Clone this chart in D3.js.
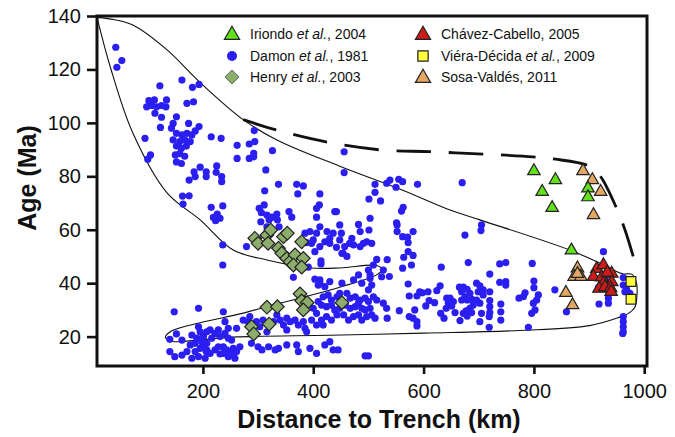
<!DOCTYPE html>
<html><head><meta charset="utf-8">
<script src="https://cdnjs.cloudflare.com/ajax/libs/d3/7.8.5/d3.min.js"></script>
<style>
body{margin:0;background:#fff;}
svg{display:block;font-family:Arial,"Liberation Sans",Helvetica,sans-serif;}
</style></head><body>
<svg id="chart" width="675" height="437"></svg>
<script>
// Axis ticks
const xTicks = [200, 400, 600, 800, 1000];
const yTicks = [20, 40, 60, 80, 100, 120, 140];

// [distance to trench (km), age (Ma)]
const damon = [
[42,128.3],[44,120.8],[53,123.3],
[122,113.9],[162,116],[181,113.3],[193,114.4],
[102,108.3],[112,108.6],[134,108.6],
[98,106],[107,106.5],[116,106],[125,106.5],[133,106],
[113,103.6],[125,102.1],[123,98.3],[95,94.2],[100,86.4],[105,88],
[152,102.3],[171,107.3],[183,107.9],[174,99.8],[193,98.6],[146,99.8],[143,98],
[152,96.1],[162,95.5],[171,96.1],[180,95.5],[186,97],
[146,93.6],[158,93],[167,93.6],[177,93],
[152,91.3],[161,90.5],[170,91.3],
[150,88],[158,88.5],[167,87.5],
[152,85.4],[161,84.8],
[175,78.6],[195,83.4],[184,81.7],[186,79.9],[206,81.7],[206,79.9],[225,83.9],[224,81.5],[234,79.9],[234,78],
[215,94.8],[233,94.2],[262,91.6],[262,86.7],
[163,72.6],[175,72.7],[164,69.6],
[215,68.4],[236,68.9],[226,65.9],[231,64.3],[223,63.4],[236,54.3],[219,64.6],
[284,92.1],[294,93],[284,86.7],[292,87.3],[292,88.6],[293,97.1],
[326,89.6],[314,82.4],[312,74.6],[337,77],[370,77],[382,76.4],[372,73.4],
[412,73.4],[411,69.3],[406,68],[439,66.8],
[302,68],[311,69.3],[306,66.4],[316,65.5],[325,64.7],[334,65.9],[320,63.7],[335,63.7],[338,61.1],[316,61.1],[305,63],[356,66.8],[361,64.7],
[456,89.2],[456,81.4],[512,77],[512,74],[533,77.4],[539,78.6],[550,75.9],[555,78.9],[562,78],[589,77],[670,77.6],
[501,71.5],[522,70.8],[442,66.8],[563,68.4],[560,67],[503,64.3],
[406,64.7],[412,61.1],[394,59.3],[385,58.7],[400,56.2],[388,55.2],[425,59.3],[421,55.5],[448,61.8],[451,58.7],[448,56.2],[442,53.4],[482,62],[485,59.3],[470,56.8],[473,54.3],[485,53.7],[501,59.9],[497,55.5],[506,54.9],
[552,61.8],[552,59.3],[562,57.4],[571,57.2],[572,55.2],[581,59.3],[675,58],[705,61.8],[704,59.7],[551,62.6],
[436,58.7],[430,56.8],[406,58.7],[430,54.9],[397,54.9],[412,53.7],[403,51.8],[279,53.7],
[466,54.9],[457,53.7],[454,51.2],[491,54.9],
[572,51.8],[581,50.4],[564,49.7],[562,45.6],[578,46.8],[534,48.8],[538,42.5],[524,42.4],[515,48.9],[509,46.8],[527,44.9],[500,44.9],[503,43.1],
[632,46],[681,47.7],[720,43.4],[738,47.2],[749,47.7],[738,40.3],[749,40.6],[749,39.3],[773,34.4],[797,47.4],
[236,46.8],[148,29.3],[192,30.6],[237,29.3],[240,25.6],
[152,21],[140,19],[162,18.7],[180,20.6],[192,23.7],[195,21.8],[201,20],[207,21.8],[213,22.5],[189,19.4],[198,18.1],[207,17.5],[216,19.4],[222,21.2],[228,22.5],[231,20],[240,21.2],[246,23.1],[246,19.4],[252,18.7],[261,23.1],
[177,16.9],[186,17.5],[195,15.6],[186,14.4],[201,16.2],[207,15],[213,13.7],[222,15],[228,16.2],[237,16.2],[243,15],[237,13.7],[255,15.6],[252,13.7],[261,14.4],
[140,14.4],[149,12.5],[162,13.1],[171,14.4],[180,11.9],[192,12.5],[206,14.4],[204,11.9],[231,13.5],[246,12.5],[255,13.1],[258,11.9],
[414,48.4],[414,47.2],[452,51.2],[461,50],[364,42.2],[403,41.5],[412,40],[409,39.3],[430,40.6],[421,38.7],[452,40],[473,41.2],[482,43.1],[488,40],[503,41.8],[506,39.3],[500,37.5],
[418,34.9],[427,35.6],[433,33.7],[443,34.9],[448,36.2],[461,36.2],[467,34.4],[476,34.9],[485,33.7],[494,34.4],[500,33.1],[509,34.9],[515,33.7],
[409,33.1],[415,31.8],[424,31.2],[433,31.8],[439,30],[448,30.6],[458,31.8],[467,30.6],[476,31.2],[482,32.5],[488,30.6],[494,30],[503,30.6],
[400,30.6],[406,28.7],[415,26.2],[424,27.5],[433,26.2],[443,28.1],[455,28.1],[464,26.2],[473,27.5],[482,28.1],[488,26.2],[497,27.5],[506,28.1],[512,26.9],[397,26.2],[406,24.3],[418,24.3],
[273,26.2],[285,27.5],[297,25.6],[303,23.7],[309,26.2],[328,25.6],[334,28.1],[340,26.2],[346,24.3],[352,26.9],[358,25.6],[367,26.2],[373,24.3],[382,25.6],[385,23.1],[316,21.8],[352,22.5],[388,21.8],[282,25.6],
[267,16.2],[288,17.5],[300,16.2],[307,15],[319,16.2],[331,15],[337,15.6],[352,16.9],[370,16.9],[373,14.4],[394,15.6],[406,13.7],[421,16.9],[430,18.1],[436,15],[445,15],[494,12.8],[500,12.8],
[391,46],[412,41.2],
[572,39.7],[574,35.2],[588,35.2],[593,36.8],[598,36.4],[608,36.8],[624,37.2],[630,39],[610,33.5],[620,32.7],[604,31.5],[584,30],[574,27.5],[581,26.9],[588,25.6],[588,24],[556,29.7],[533,30.6],[534,26.9],[527,32.5],
[642,34.4],[648,34.4],[654,33.1],[645,32.5],[641,30.6],[651,31.5],[665,38.5],[672,38.5],[669,36.8],[679,37.7],[684,36.2],[675,34.9],[669,33.7],[679,33.7],[687,34],[696,40],[702,39],[708,37.5],[699,36.8],[696,33.7],[702,32.5],[690,31.8],[684,30.6],[677,29.6],[672,28.7],[679,27.7],[666,26],[657,29],[631,28.7],[637,26.9],[687,29],[705,28.7],[702,25.6],
[720,36.8],[720,33.5],[720,31.2],[720,29],[719,27.5],[719,23.5],[740,32.2],[740,29.3],[740,26.2],[708,35.6],
[800,40.8],[800,38.3],[784,36.4],[781,35],[808,35.6],[805,33.7],[799,32.5],[802,30],[796,28.7],[790,23.5],[838,37.5],[859,29.3],
[918,32.2],[935,34.4],[935,32.5],[935,43.4],[962,42.1],[962,39.3],[968,37.7],[974,36.2],[965,36.8],[926,51.8],
[962,27.5],[962,25.6],[962,23.7],[962,21.8],[961,21.2],[917,38.3],[930,41]
];
const iriondo = [[800,82],[839,78.6],[815,74.2],[833,68.2],[898,75.5],[898,72.2],[868,52.3]];
const henry = [
[294,56.8],[300,54.9],[316,58],[323,59.9],[318,54.9],[337,53.1],[346,57.4],[353,58.7],[343,51.2],[352,49.3],[358,48],[367,50.6],[364,46.8],[379,55.5],[382,49.3],[379,46],
[288,23.7],[292,21],[316,31],[335,31.2],[320,24.7],[376,36],[379,33.4],[389,32.7],[382,30],[452,32.7]
];
const chavez = [[914,45.4],[926,46.8],[941,43.6],[908,42.4],[923,42.2],[941,40.4],[926,40],[918,38],[929,38.6],[939,38.2],[940,36.8],[933,44]];
const viera = [[976,40.6],[976,34]];
const sosa = [[889,82],[906,78.6],[921,74.2],[908,65.5],[879,45.6],[873,42.4],[885,42.4],[879,43.5],[858,36.4],[870,31.8]];

// Outline of the sampled field (closed, with a sharp apex at the upper left)
const envelope = [
[8,139.5],[40,138.6],[73,136.6],[135,127.3],[195,115.1],[273,101.2],[334,93.6],[448,83.8],[560,75],[648,67.4],[702,63.7],[865,52.4],[930,46.5],[961,43.5],[978,43.3],[986,40],[987,36],[983,31],[970,28.5],[956,27.3],[901,24.1],[775,22.3],[600,21.3],[430,20.5],[255,19.8],[170,18.3],[145,18.2],[132,19.7],[143,22.1],[195,25.2],[267,28.5],[316,31.2],[448,38.5],[515,43.1],[525,45],[515,46.6],[449,45.7],[395,45.7],[316,48.7],[255,52.4],[195,63.7],[135,73.8],[73,96.2],[32,121],[8,139.5]
];
// Dashed arc-front trend
const front = [[273,101.2],[334,97.3],[425,92.8],[521,89.9],[612,89.2],[708,88.3],[798,87.3],[839,86.4],[896,84.2],[912,82],[923,79.3],[950,68],[965,60],[980,50]];

const colors = {damon:"#2a1ef0", iriondo:"#62e01c", henry:"#8cad6c", chavez:"#cf1a1a", viera:"#ffff3c", sosa:"#e2a764"};

const svg = d3.select("#chart");
const x = d3.scaleLinear().domain([8, 1005]).range([97, 647]);
const y = d3.scaleLinear().domain([9, 140]).range([366, 16]);

const smooth = d3.line().x(d => x(d[0])).y(d => y(d[1])).curve(d3.curveCatmullRom.alpha(0.5));

svg.append("path")
  .attr("d", smooth(envelope))
  .attr("fill", "none").attr("stroke", "#111").attr("stroke-width", 1.1);

// Dashed line: a whole number of dash periods, so it starts and ends on a dash
const DASH = 33, GAP = 17;
const frontPath = svg.append("path")
  .attr("d", smooth(front))
  .attr("fill", "none").attr("stroke", "#111").attr("stroke-width", 2.8);
const flen = frontPath.node().getTotalLength();
const nDash = Math.round((flen + GAP) / (DASH + GAP));
const per = flen / (nDash - GAP / (DASH + GAP));
frontPath.attr("stroke-dasharray",
  `${(per * DASH / (DASH + GAP)).toFixed(2)},${(per * GAP / (DASH + GAP)).toFixed(2)}`);

// Damon et al. circles
svg.append("g").selectAll("circle").data(damon).join("circle")
  .attr("cx", d => x(d[0])).attr("cy", d => y(d[1])).attr("r", 3.6)
  .attr("fill", colors.damon);

const tri = d3.symbol().type(d3.symbolTriangle);
const sq = d3.symbol().type(d3.symbolSquare);

function drawSymbols(data, gen, size, fill, rot) {
  svg.append("g").selectAll("path").data(data).join("path")
    .attr("d", gen.size(size)())
    .attr("transform", d => `translate(${x(d[0])},${y(d[1])})` + (rot ? ` rotate(${rot})` : ""))
    .attr("fill", fill).attr("stroke", "#222").attr("stroke-width", 1.2)
    .attr("stroke-linejoin", "miter");
}
drawSymbols(henry, sq, 92, colors.henry, 45);
drawSymbols(sosa, tri, 68, colors.sosa);
drawSymbols(iriondo, tri, 68, colors.iriondo);
drawSymbols(chavez, tri, 68, colors.chavez);
drawSymbols(viera, sq, 95, colors.viera);

// Frame
svg.append("rect").attr("x", 97).attr("y", 16).attr("width", 550).attr("height", 350)
  .attr("fill", "none").attr("stroke", "#111").attr("stroke-width", 3);

// Axes
const gx = svg.append("g").attr("transform", "translate(0,366)")
  .call(d3.axisBottom(x).tickValues(xTicks).tickFormat(d3.format("d"))
    .tickSize(8).tickSizeOuter(0).tickPadding(10));
const gy = svg.append("g").attr("transform", "translate(97,0)")
  .call(d3.axisLeft(y).tickValues(yTicks).tickFormat(d3.format("d"))
    .tickSize(10).tickSizeOuter(0).tickPadding(6));
[gx, gy].forEach(g => {
  g.select(".domain").remove();
  g.selectAll(".tick line").attr("stroke", "#111").attr("stroke-width", 2.6);
  g.selectAll(".tick text").attr("font-size", 20).attr("fill", "#111")
    .attr("font-family", "Arial, 'Liberation Sans', Helvetica, sans-serif");
});

svg.append("text").attr("x", 379).attr("y", 428).attr("text-anchor", "middle")
  .attr("font-size", 25).attr("font-weight", "bold").attr("fill", "#111")
  .text("Distance to Trench (km)");
svg.append("text").attr("transform", "translate(36,178) rotate(-90)").attr("text-anchor", "middle")
  .attr("font-size", 25).attr("font-weight", "bold").attr("fill", "#111")
  .text("Age (Ma)");

// Legend
const legend = [
  {col: 0, row: 0, sym: "tri", fill: colors.iriondo, parts: [["Iriondo ", false], ["et al.", true], [", 2004", false]]},
  {col: 0, row: 1, sym: "dot", fill: colors.damon, parts: [["Damon ", false], ["et al.", true], [", 1981", false]]},
  {col: 0, row: 2, sym: "dia", fill: colors.henry, parts: [["Henry ", false], ["et al.", true], [", 2003", false]]},
  {col: 1, row: 0, sym: "tri", fill: colors.chavez, parts: [["Chávez-Cabello, 2005", false]]},
  {col: 1, row: 1, sym: "sq", fill: colors.viera, parts: [["Viéra-Décida ", false], ["et al.", true], [", 2009", false]]},
  {col: 1, row: 2, sym: "tri", fill: colors.sosa, parts: [["Sosa-Valdés, 2011", false]]}
];
const colX = [232, 423], rowY = [34, 56, 77];
legend.forEach(it => {
  const cx = colX[it.col], cy = rowY[it.row];
  const g = svg.append("g");
  if (it.sym === "dot") {
    g.append("circle").attr("cx", cx).attr("cy", cy).attr("r", 5).attr("fill", it.fill);
  } else {
    const gen = it.sym === "tri" ? tri.size(100) : sq.size(it.sym === "dia" ? 100 : 105);
    g.append("path").attr("d", gen())
      .attr("transform", `translate(${cx},${cy + (it.sym === "tri" ? 1 : 0)})` + (it.sym === "dia" ? " rotate(45)" : ""))
      .attr("fill", it.fill).attr("stroke", it.sym === "dia" ? "#555" : "#222")
      .attr("stroke-width", it.sym === "dia" ? 0.8 : 1.2);
  }
  const t = g.append("text").attr("x", cx + 18).attr("y", cy + 5).attr("font-size", 14).attr("fill", "#111");
  it.parts.forEach(p => t.append("tspan").attr("font-style", p[1] ? "italic" : "normal").text(p[0]));
});
</script></body></html>
